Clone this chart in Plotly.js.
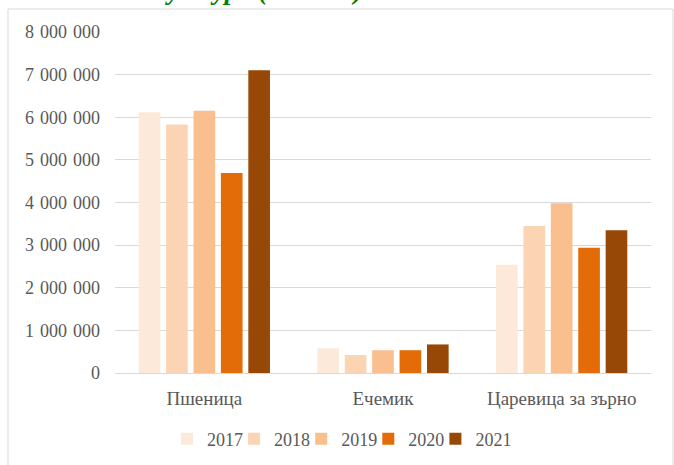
<!DOCTYPE html>
<html>
<head>
<meta charset="utf-8">
<script src="https://cdn.plot.ly/plotly-3.0.1.min.js"></script>
<style>html,body{margin:0;padding:0;background:#fff;}#chart{width:674px;height:465px;}</style>
</head>
<body>
<div id="chart"></div>
<script>
const categories = ["Пшеница", "Ечемик", "Царевица за зърно"];
const years = ["2017", "2018", "2019", "2020", "2021"];
const v2017 = [6120000, 580000, 2540000];
const v2018 = [5830000, 420000, 3450000];
const v2019 = [6150000, 535000, 3980000];
const v2020 = [4690000, 535000, 2940000];
const v2021 = [7100000, 670000, 3350000];
const yTickVals = [0, 1000000, 2000000, 3000000, 4000000, 5000000, 6000000, 7000000, 8000000];
const yTickText = ["0", "1\u2004000\u2004000", "2\u2004000\u2004000", "3\u2004000\u2004000", "4\u2004000\u2004000",
                   "5\u2004000\u2004000", "6\u2004000\u2004000", "7\u2004000\u2004000", "8\u2004000\u2004000"];
const titleText = "култура (тонове)";

const series = [v2017, v2018, v2019, v2020, v2021];
const colors = ["#FDE9D9", "#FBD4B4", "#FABF8F", "#E36C09", "#974806"];
const FONT = "Liberation Serif, Times New Roman, serif";

const legendIds = years.map((y, i) => i === 0 ? "legend" : "legend" + (i + 1));

const traces = years.map((y, i) => ({
  type: "bar",
  name: y,
  x: categories,
  y: series[i],
  legend: legendIds[i],
  marker: { color: colors[i], line: { width: 0 } },
  hoverinfo: "x+y+name"
}));

const W = 674, H = 465, L = 115, R = 23, T = 32, B = 92;
const pw = W - L - R, ph = H - T - B;
const px = x => (x - L) / pw;
const py = y => (H - B - y) / ph;

const layout = {
  width: W, height: H,
  margin: { l: L, r: R, t: T, b: B, pad: 0, autoexpand: false },
  paper_bgcolor: "#ffffff",
  plot_bgcolor: "#ffffff",
  font: { family: FONT, size: 18, color: "#595959" },
  barmode: "group",
  bargap: 0.233,
  bargroupgap: 0.21,
  showlegend: true,
  xaxis: {
    type: "category",
    showgrid: false,
    showline: true,
    linecolor: "#d9d9d9",
    linewidth: 1,
    ticks: "",
    tickfont: { family: FONT, size: 19, color: "#595959" },
    ticklabelstandoff: 8,
    automargin: false,
    fixedrange: true
  },
  yaxis: {
    range: [0, 8000000],
    tickvals: yTickVals,
    ticktext: yTickText,
    showgrid: true,
    gridcolor: "#d9d9d9",
    gridwidth: 1,
    zeroline: false,
    showline: false,
    ticks: "",
    tickfont: { family: FONT, size: 18, color: "#595959" },
    ticklabelstandoff: 14,
    automargin: false,
    fixedrange: true
  },
  shapes: [{
    type: "rect", xref: "paper", yref: "paper",
    x0: px(8), x1: px(673), y0: py(470), y1: py(9),
    line: { color: "#d9d9d9", width: 1 }, fillcolor: "rgba(0,0,0,0)", layer: "below"
  }],
  annotations: [{
    text: titleText,
    xref: "paper", yref: "paper",
    x: px(258.5), xanchor: "center",
    y: py(7), yanchor: "bottom",
    showarrow: false,
    font: { family: FONT, size: 27, color: "#008000", weight: "bold", style: "italic" }
  }]
};

// one single-item legend per year, laid out in a row like the reference
legendIds.forEach((id, i) => {
  layout[id] = {
    orientation: "h",
    x: px(167 + 67.1 * i), xanchor: "left",
    y: py(439), yanchor: "middle",
    font: { family: FONT, size: 18, color: "#595959" },
    bgcolor: "rgba(0,0,0,0)",
    itemclick: false
  };
});

Plotly.newPlot("chart", traces, layout, { displayModeBar: false, staticPlot: true });
</script>
</body>
</html>
